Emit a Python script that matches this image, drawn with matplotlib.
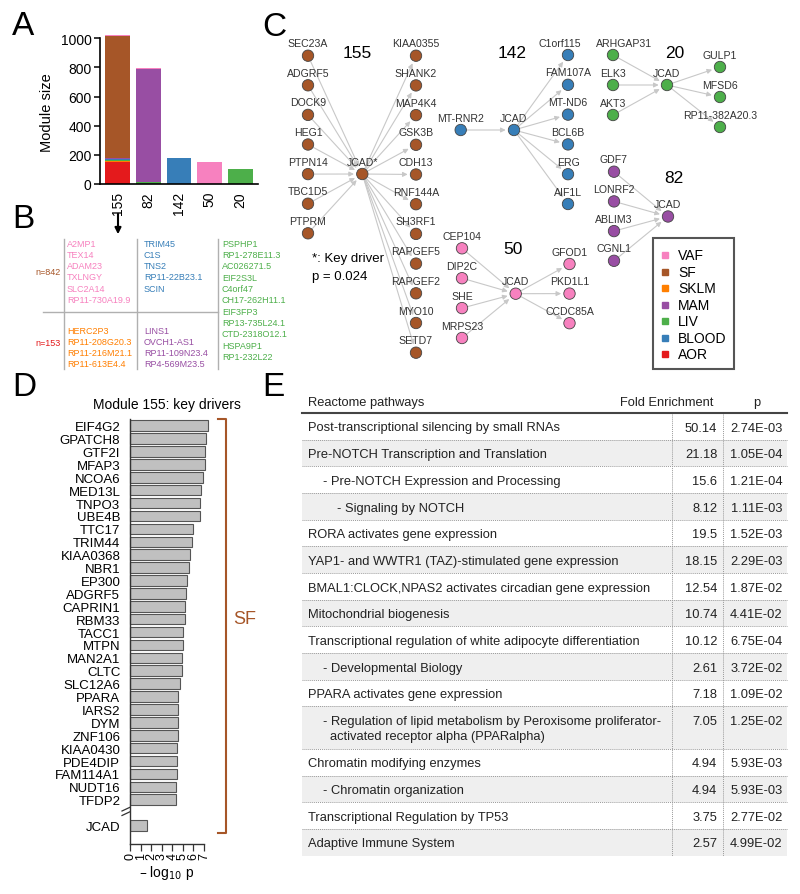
import numpy as np
import matplotlib
matplotlib.use('Agg')
import matplotlib.pyplot as plt
from matplotlib.patches import Circle, FancyArrowPatch, Rectangle, Polygon

plt.rcParams['font.family'] = ['Liberation Sans', 'DejaVu Sans']

W, H = 800, 895

# ---------------- data ----------------
# A: module sizes split by tissue
modules = ['155', '82', '142', '50', '20']
stack_order = ['AOR', 'SKLM', 'LIV', 'BLOOD', 'MAM', 'SF', 'VAF']
sizes = {
    'AOR':   [153, 0, 0, 0, 0],
    'SKLM':  [4, 0, 0, 0, 0],
    'LIV':   [11, 12, 0, 0, 103],
    'BLOOD': [5, 0, 176, 0, 0],
    'MAM':   [4, 778, 0, 0, 0],
    'SF':    [842, 0, 0, 0, 0],
    'VAF':   [6, 3, 0, 153, 0],
}
tissue_col = {'VAF': '#F781BF', 'SF': '#A65628', 'SKLM': '#FF7F00', 'MAM': '#984EA3',
              'LIV': '#4DAF4A', 'BLOOD': '#377EB8', 'AOR': '#E41A1C'}
legend_order = ['VAF', 'SF', 'SKLM', 'MAM', 'LIV', 'BLOOD', 'AOR']

# B: non-SF / non-AOR genes of module 155
b_vaf = ['A2MP1', 'TEX14', 'ADAM23', 'TXLNGY', 'SLC2A14', 'RP11-730A19.9']
b_blood = ['TRIM45', 'C1S', 'TNS2', 'RP11-22B23.1', 'SCIN']
b_sklm = ['HERC2P3', 'RP11-208G20.3', 'RP11-216M21.1', 'RP11-613E4.4']
b_mam = ['LINS1', 'OVCH1-AS1', 'RP11-109N23.4', 'RP4-569M23.5']
b_liv = ['PSPHP1', 'RP1-278E11.3', 'AC026271.5', 'EIF2S3L', 'C4orf47', 'CH17-262H11.1',
         'EIF3FP3', 'RP13-735L24.1', 'CTD-2318O12.1', 'HSPA9P1', 'RP1-232L22']

# C: JCAD neighbourhoods
net155_in = ['SEC23A', 'ADGRF5', 'DOCK9', 'HEG1', 'PTPN14', 'TBC1D5', 'PTPRM']
net155_out = ['KIAA0355', 'SHANK2', 'MAP4K4', 'GSK3B', 'CDH13', 'RNF144A', 'SH3RF1',
              'RAPGEF5', 'RAPGEF2', 'MYO10', 'SETD7']
net142_in = ['MT-RNR2']
net142_out = ['C1orf115', 'FAM107A', 'MT-ND6', 'BCL6B', 'ERG', 'AIF1L']
net20_in = ['ARHGAP31', 'ELK3', 'AKT3']
net20_out = ['GULP1', 'MFSD6', 'RP11-382A20.3']
net82_in = ['GDF7', 'LONRF2', 'ABLIM3', 'CGNL1']
net82_out = []
net50_in = ['CEP104', 'DIP2C', 'SHE', 'MRPS23']
net50_out = ['GFOD1', 'PKD1L1', 'CCDC85A']
# labels nudged sideways in the original layout
label_dx = {'C1orf115': -8, 'ARHGAP31': 11}

# D: key drivers of module 155
kd_genes = ['EIF4G2', 'GPATCH8', 'GTF2I', 'MFAP3', 'NCOA6', 'MED13L', 'TNPO3', 'UBE4B',
            'TTC17', 'TRIM44', 'KIAA0368', 'NBR1', 'EP300', 'ADGRF5', 'CAPRIN1', 'RBM33',
            'TACC1', 'MTPN', 'MAN2A1', 'CLTC', 'SLC12A6', 'PPARA', 'IARS2', 'DYM',
            'ZNF106', 'KIAA0430', 'PDE4DIP', 'FAM114A1', 'NUDT16', 'TFDP2']
kd_logp = [7.42, 7.23, 7.14, 7.11, 6.95, 6.70, 6.64, 6.61, 5.98, 5.89, 5.64, 5.61, 5.42,
           5.30, 5.21, 5.21, 5.05, 5.02, 4.96, 4.96, 4.74, 4.55, 4.55, 4.52, 4.52, 4.49,
           4.49, 4.46, 4.39, 4.39]
jcad_logp = 1.65

# E: Reactome pathways
pathways = ['Post-transcriptional silencing by small RNAs',
            'Pre-NOTCH Transcription and Translation',
            '- Pre-NOTCH Expression and Processing',
            '- Signaling by NOTCH',
            'RORA activates gene expression',
            'YAP1- and WWTR1 (TAZ)-stimulated gene expression',
            'BMAL1:CLOCK,NPAS2 activates circadian gene expression',
            'Mitochondrial biogenesis',
            'Transcriptional regulation of white adipocyte differentiation',
            '- Developmental Biology',
            'PPARA activates gene expression',
            '- Regulation of lipid metabolism by Peroxisome proliferator-\nactivated receptor alpha (PPARalpha)',
            'Chromatin modifying enzymes',
            '- Chromatin organization',
            'Transcriptional Regulation by TP53',
            'Adaptive Immune System']
path_level = [0, 0, 1, 2, 0, 0, 0, 0, 0, 1, 0, 1, 0, 1, 0, 0]
fold_enr = ['50.14', '21.18', '15.6', '8.12', '19.5', '18.15', '12.54', '10.74', '10.12',
            '2.61', '7.18', '7.05', '4.94', '4.94', '3.75', '2.57']
p_vals = ['2.74E-03', '1.05E-04', '1.21E-04', '1.11E-03', '1.52E-03', '2.29E-03', '1.87E-02',
          '4.41E-02', '6.75E-04', '3.72E-02', '1.09E-02', '1.25E-02', '5.93E-03', '5.93E-03',
          '2.77E-02', '4.99E-02']

# ---------------- figure ----------------
fig = plt.figure(figsize=(W / 100, H / 100), dpi=100)
ov = fig.add_axes([0, 0, 1, 1])
ov.set_xlim(0, W)
ov.set_ylim(H, 0)
ov.axis('off')


def px_axes(left, top, right, bottom):
    return fig.add_axes([left / W, 1 - bottom / H, (right - left) / W, (bottom - top) / H])


# panel letters
for lab, (x, y) in zip('ABCDE', [(12, 26), (12, 219), (262, 27), (12, 387), (262, 387)]):
    ov.text(x, y, lab, fontsize=24, ha='left', va='center')

# ---- A
axA = px_axes(100, 39.3, 258, 185)
xpos = np.arange(len(modules))
base = np.zeros(len(modules))
for t in stack_order:
    v = np.array(sizes[t], dtype=float)
    m = v > 0
    axA.bar(xpos[m], v[m], 0.81, bottom=base[m], color=tissue_col[t],
            edgecolor='none', clip_on=False)
    base += v
axA.set_xlim(-0.57, 4.57)
axA.set_ylim(0, 1000)
axA.set_yticks(range(0, 1001, 200))
axA.set_xticks(xpos)
axA.set_xticklabels(modules, rotation=90, fontsize=10)
axA.tick_params(axis='x', length=0, pad=5)
axA.tick_params(axis='y', labelsize=10, length=4, width=1.1, pad=2)
for s in ['top', 'right']:
    axA.spines[s].set_visible(False)
for s in ['left', 'bottom']:
    axA.spines[s].set_linewidth(1.2)
axA.set_ylabel('Module size', fontsize=10.5, labelpad=5)
ov.annotate('', xy=(118, 238), xytext=(118, 212),
            arrowprops=dict(arrowstyle='-|>', color='black', lw=1.5, mutation_scale=9))

# ---- B
lc = '#b0b0b0'
for x in [64, 137, 218]:
    ov.plot([x, x], [240, 370], color=lc, lw=1)
ov.plot([43, 218], [313, 313], color=lc, lw=1)
ov.text(61, 272.7, 'n=842', color=tissue_col['SF'], fontsize=6.5, ha='right', va='center')
ov.text(61, 343, 'n=153', color=tissue_col['AOR'], fontsize=6.5, ha='right', va='center')


def gene_col(genes, x, y0, step, col):
    for i, g in enumerate(genes):
        ov.text(x, y0 + i * step, g, color=col, fontsize=6.5, ha='left', va='center')


gene_col(b_vaf, 67, 244.3, 11.2, tissue_col['VAF'])
gene_col(b_sklm, 67, 331, 11.2, tissue_col['SKLM'])
gene_col(b_blood, 144, 244.3, 11.2, tissue_col['BLOOD'])
gene_col(b_mam, 144, 331, 11.2, tissue_col['MAM'])
gene_col(b_liv, 222, 244.3, 11.3, tissue_col['LIV'])

# ---- C
R = 5.7


def draw_net(srcs, tgts, hub_label, col, src_xy, hub, tgt_xy):
    sx, sy0, sdy = src_xy
    hx, hy = hub
    nodes = [(hx, hy, hub_label)]
    for i, g in enumerate(srcs):
        p = (sx, sy0 + i * sdy)
        ov.add_patch(FancyArrowPatch(p, (hx, hy), arrowstyle='-|>', mutation_scale=7,
                                     color='#c8c8c8', lw=0.8, shrinkA=0, shrinkB=6, zorder=2))
        nodes.append((p[0], p[1], g))
    if tgts:
        tx, ty0, tdy = tgt_xy
        for i, g in enumerate(tgts):
            p = (tx, ty0 + i * tdy)
            ov.add_patch(FancyArrowPatch((hx, hy), p, arrowstyle='-|>', mutation_scale=7,
                                         color='#c8c8c8', lw=0.8, shrinkA=0, shrinkB=6, zorder=2))
            nodes.append((p[0], p[1], g))
    for x, y, g in nodes:
        ov.add_patch(Circle((x, y), R, facecolor=col, edgecolor='#444444', lw=0.6, zorder=4))
        ov.text(x + label_dx.get(g, 0), y - 12.5, g, fontsize=7.6, color='#333333',
                ha='center', va='center', zorder=5)


draw_net(net155_in, net155_out, 'JCAD*', tissue_col['SF'], (308, 56.7, 29.6), (362.3, 175), (416, 56.7, 29.7))
draw_net(net142_in, net142_out, 'JCAD', tissue_col['BLOOD'], (460.7, 131, 0), (514, 131), (568, 56, 29.8))
draw_net(net20_in, net20_out, 'JCAD', tissue_col['LIV'], (613, 56, 30), (667, 86), (720, 68, 30))
draw_net(net82_in, net82_out, 'JCAD', tissue_col['MAM'], (614, 172.7, 29.7), (668, 217.5), None)
draw_net(net50_in, net50_out, 'JCAD', tissue_col['VAF'], (462, 249.3, 29.9), (515.7, 294.7), (569.5, 265, 29.6))

for lab, (x, y) in zip(['155', '142', '20', '82', '50'],
                       [(357, 53), (512, 53), (675, 53), (674, 178), (513, 249)]):
    ov.text(x, y, lab, fontsize=12.5, ha='center', va='center')
ov.text(311.7, 259.3, '*: Key driver', fontsize=9.5, ha='left', va='center')
ov.text(311.7, 276.5, 'p = 0.024', fontsize=9.5, ha='left', va='center')

ov.add_patch(Rectangle((653, 239.3), 81, 130.7, facecolor='white', edgecolor='#555555', lw=1.5, zorder=3))
for i, t in enumerate(legend_order):
    y = 256 + i * 16.5
    ov.plot(665, y, 's', ms=5, color=tissue_col[t], zorder=4)
    ov.text(678, y, t, fontsize=10, ha='left', va='center', zorder=4)

# ---- D
axD = px_axes(130, 420, 204, 845)
ypos = np.arange(len(kd_genes))
jcad_pos = len(kd_genes) + 1
axD.barh(ypos, kd_logp, 0.82, color='#c0c0c0', edgecolor='#555555', lw=0.8, clip_on=False)
axD.barh([jcad_pos], [jcad_logp], 0.82, color='#c0c0c0', edgecolor='#555555', lw=0.8)
axD.set_xlim(0, 7)
axD.set_ylim(32.43, -0.52)
axD.set_yticks(list(ypos) + [jcad_pos])
axD.set_yticklabels(kd_genes + ['JCAD'], fontsize=9.5)
axD.tick_params(axis='y', length=0, pad=7)
axD.set_xticks(range(8))
axD.set_xticklabels([str(i) for i in range(8)], rotation=90, fontsize=9)
axD.tick_params(axis='x', length=5, width=0.9, pad=1, color='#333333')
for s in ['top', 'right']:
    axD.spines[s].set_visible(False)
for s in ['left', 'bottom']:
    axD.spines[s].set_linewidth(1)
    axD.spines[s].set_color('#333333')
axD.set_title('Module 155: key drivers', fontsize=10, pad=8)
axD.set_xlabel('– log$_{10}$ p', fontsize=10, labelpad=3)

# axis break
ov.add_patch(Polygon([(122, 812), (138, 804.5), (138, 809), (122, 816.5)], closed=True,
                     facecolor='white', edgecolor='none', zorder=6))
for dy in [0, 4.5]:
    ov.plot([122, 138], [812 + dy, 804.5 + dy], color='#333333', lw=0.9, zorder=7)

# SF bracket
sfc = tissue_col['SF']
ov.plot([218, 226, 226, 218], [420, 420, 834, 834], color=sfc, lw=1.5)
ov.text(233, 619, 'SF', fontsize=13, color=sfc, ha='left', va='center')

# ---- E
fs = 9.3
tl, tr = 302, 787
ov.text(308, 403, 'Reactome pathways', fontsize=fs, ha='left', va='center', color='#222222')
ov.text(667, 403, 'Fold Enrichment', fontsize=fs, ha='center', va='center', color='#222222')
ov.text(757, 403, 'p', fontsize=fs, ha='center', va='center', color='#222222')
ov.plot([tl, tr], [414, 414], color='#444444', lw=1.5, zorder=3)
row_h, extra = 26.67, 15.8
top = 414
for i, name in enumerate(pathways):
    nl = name.count('\n') + 1
    h = row_h + extra * (nl - 1)
    if i % 2 == 1:
        ov.add_patch(Rectangle((tl, top), tr - tl, h, facecolor='#efefef', edgecolor='none', zorder=1))
    indent = [308, 323.3, 337.3][path_level[i]]
    lines = name.split('\n')
    for k, ln in enumerate(lines):
        xx = indent if k == 0 else indent + 6.7
        ov.text(xx, top + 14.5 + k * 15, ln, fontsize=fs, ha='left', va='center', color='#222222', zorder=2)
    ov.text(717.3, top + 14.5, fold_enr[i], fontsize=fs, ha='right', va='center', color='#222222', zorder=2)
    ov.text(782.7, top + 14.5, p_vals[i], fontsize=fs, ha='right', va='center', color='#222222', zorder=2)
    top += h
    if i < len(pathways) - 1:
        ov.plot([tl, tr], [top, top], color='#9a9a9a', lw=0.7, ls=(0, (1, 1)), zorder=2)
for x in [671.7, 723.3]:
    ov.plot([x, x], [414, top], color='#9a9a9a', lw=0.7, ls=(0, (1, 1)), zorder=2)

fig.savefig('out.png', dpi=100)
